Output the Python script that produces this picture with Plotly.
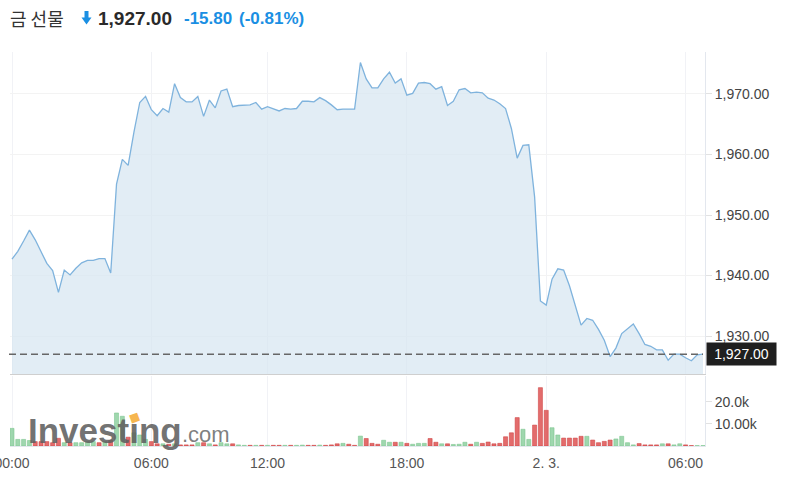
import pandas as pd
import plotly.graph_objects as go

# ---------------- data ----------------
ts = pd.date_range("2023-02-02 00:00", "2023-02-03 06:45", freq="15min")
ts = [t for t in ts if not (t.day == 2 and t.hour == 7)]
times = [t.strftime("%m-%d %H:%M") for t in ts]

price = [
    1942.7, 1944.0, 1945.7, 1947.5, 1945.9, 1944.0, 1942.0, 1940.8, 1937.2, 1940.9,
    1940.1, 1941.2, 1942.1, 1942.5, 1942.5, 1942.8, 1942.8, 1940.4, 1955.1, 1959.2,
    1958.2, 1963.7, 1968.6, 1969.6, 1967.4, 1966.4, 1967.6, 1967.0, 1971.7, 1969.4,
    1968.7, 1968.7, 1969.6, 1966.3, 1969.0, 1967.7, 1970.5, 1970.8, 1967.9, 1968.1,
    1968.2, 1968.2, 1968.6, 1967.5, 1967.9, 1967.6, 1967.2, 1967.6, 1967.5, 1967.6,
    1968.8, 1968.8, 1968.7, 1969.4, 1968.9, 1968.2, 1967.4, 1967.5, 1967.5, 1967.5,
    1975.2, 1972.5, 1971.0, 1971.0, 1972.5, 1973.6, 1971.8, 1972.5, 1969.8, 1970.1,
    1971.8, 1971.9, 1971.7, 1970.8, 1971.2, 1968.1, 1968.8, 1970.7, 1970.9, 1970.2,
    1970.3, 1970.2, 1969.3, 1969.0, 1968.4, 1967.6, 1964.3, 1959.4, 1961.5, 1961.6,
    1953.0, 1935.8, 1935.1, 1939.4, 1941.1, 1940.9, 1938.3, 1935.1, 1931.8, 1932.9,
    1932.6, 1931.1, 1929.3, 1926.6, 1928.0, 1930.4, 1931.2, 1932.0, 1930.4, 1928.6,
    1928.3, 1927.7, 1927.7, 1926.0, 1927.0, 1927.0, 1926.4, 1925.9, 1926.9, 1927.0,
]

volume_k = [
    8.0, 3.0, 3.0, 2.5, 2.0, 2.0, 2.0, 1.5, 3.5, 1.5,
    1.5, 1.5, 1.5, 2.0, 2.0, 1.5, 2.0, 2.5, 15.0, 13.5,
    4.0, 6.0, 5.0, 3.0, 2.0, 1.0, 1.0, 0.8, 1.0, 0.5,
    0.5, 0.5, 1.5, 1.5, 1.0, 0.5, 1.5, 1.0, 1.0, 0.5,
    0.3, 0.3, 0.3, 0.3, 0.3, 0.3, 0.3, 0.3, 0.3, 0.3,
    0.4, 0.3, 0.3, 0.4, 0.3, 0.5, 1.0, 1.2, 0.8, 0.3,
    4.5, 3.4, 1.2, 0.8, 2.6, 1.7, 1.7, 1.7, 1.2, 0.8,
    1.2, 1.2, 3.4, 1.7, 1.0, 1.0, 0.7, 0.8, 1.7, 0.8,
    1.7, 1.2, 1.8, 1.0, 1.2, 4.2, 6.0, 12.9, 7.6, 3.0,
    9.5, 26.5, 16.2, 8.3, 5.0, 3.6, 3.6, 3.6, 4.4, 4.4,
    2.7, 1.5, 2.1, 2.7, 3.2, 4.4, 1.5, 0.5, 1.1, 0.5,
    0.5, 0.5, 1.0, 1.0, 0.5, 1.0, 0.5, 0.2, 0.2, 0.2,
]

vol_up = [
    1, 1, 1, 1, 0, 0, 0, 0, 0, 1,
    0, 1, 1, 1, 1, 0, 1, 0, 1, 1,
    0, 1, 1, 1, 0, 0, 1, 0, 1, 0,
    0, 0, 1, 0, 1, 0, 1, 1, 0, 1,
    1, 0, 1, 0, 1, 0, 0, 1, 0, 1,
    1, 0, 0, 1, 0, 0, 0, 1, 0, 0,
    1, 0, 0, 0, 1, 1, 0, 1, 0, 1,
    1, 1, 0, 0, 1, 0, 1, 1, 1, 0,
    1, 0, 0, 0, 0, 0, 0, 0, 1, 1,
    0, 0, 0, 1, 1, 0, 0, 0, 0, 1,
    0, 0, 0, 0, 1, 1, 1, 1, 0, 0,
    0, 0, 1, 0, 1, 1, 0, 0, 1, 1,
]

tick_idx = [0, 24, 44, 68, 92, 116]
tick_text = ["00:00", "06:00", "12:00", "18:00", "2. 3.", "06:00"]
price_ticks = [1930, 1940, 1950, 1960, 1970]
vol_ticks = [10000, 20000]
vol_tick_text = ["10.00k", "20.0k"]
last_price = 1927.00

title_name = "금 선물"
title_price = "1,927.00"
title_change = "-15.80"
title_pct = "(-0.81%)"

# ---------------- layout helpers ----------------
W, H = 785, 482
L, R, T, B = 10, 80, 52, 36
PW, PH = W - L - R, H - T - B


def px_x(p):
    return (p - L) / PW


def px_y(p):
    return (H - B - p) / PH


FONT = "Liberation Sans, Arial, sans-serif"

vol_colors = ["rgba(142,208,160,0.85)" if u else "rgba(222,82,82,0.85)" for u in vol_up]
vol_lines = ["rgba(120,195,140,0.9)" if u else "rgba(205,60,60,0.9)" for u in vol_up]

fig = go.Figure()
fig.add_trace(go.Scatter(
    x=times, y=price, mode="lines",
    line=dict(color="#7fb3dd", width=1.3),
    fill="tozeroy", fillcolor="rgba(214,229,241,0.7)",
    xaxis="x", yaxis="y", hoverinfo="skip",
))
fig.add_trace(go.Bar(
    x=times, y=[v * 1000 for v in volume_k],
    marker=dict(color=vol_colors, line=dict(color=vol_lines, width=0.6)),
    xaxis="x2", yaxis="y2", hoverinfo="skip",
))

xr = [-0.344, len(times) - 1 + 0.344]
tickvals = [times[i] for i in tick_idx]

fig.update_layout(
    width=W, height=H,
    margin=dict(l=L, r=R, t=T, b=B, autoexpand=False),
    paper_bgcolor="white", plot_bgcolor="white",
    showlegend=False, bargap=0.3,
    font=dict(family=FONT, size=14, color="#555"),
    xaxis=dict(
        type="category", range=xr, anchor="y", domain=[0, 1], automargin=False,
        tickvals=tickvals, showticklabels=False,
        showgrid=True, gridcolor="#f1f2f6", gridwidth=1,
        showline=True, linecolor="#cfcfcf", linewidth=1, mirror=False,
        zeroline=False, fixedrange=True,
    ),
    xaxis2=dict(
        type="category", range=xr, anchor="y2", matches="x", domain=[0, 1], automargin=False,
        tickvals=tickvals, ticktext=tick_text,
        showgrid=True, gridcolor="#f1f2f6",
        showline=True, linecolor="#e3e7ee", linewidth=1,
        ticks="", ticklabelstandoff=4,
        tickfont=dict(family=FONT, size=14, color="#555"),
        zeroline=False,
    ),
    yaxis=dict(
        domain=[px_y(374), 1], range=[1923.72, 1976.94], anchor="x", automargin=False,
        side="right", tickvals=price_ticks, tickformat=",.2f",
        showgrid=True, gridcolor="#f3f3f3",
        ticks="outside", ticklen=6, tickcolor="#e2e2e2",
        showline=True, linecolor="#e3e7ee",
        tickfont=dict(family=FONT, size=14, color="#444"),
        zeroline=False,
    ),
    yaxis2=dict(
        domain=[0, px_y(376)], range=[0, 31800], anchor="x2", automargin=False,
        side="right", tickvals=vol_ticks, ticktext=vol_tick_text,
        showgrid=False,
        ticks="outside", ticklen=6, tickcolor="#e2e2e2",
        showline=True, linecolor="#e3e7ee",
        tickfont=dict(family=FONT, size=14, color="#444"),
        zeroline=False,
    ),
)

# dashed last-price line
fig.add_shape(type="line", xref="paper", yref="y",
              x0=px_x(9), x1=px_x(703), y0=last_price, y1=last_price,
              line=dict(color="#666", width=1.5, dash="7px,4px"))

# title arrow
ax = lambda p: px_x(p)
ay = lambda p: px_y(p)
arrow = (f"M {ax(84.5)} {ay(11)} L {ax(88.5)} {ay(11)} L {ax(88.5)} {ay(17.5)} "
         f"L {ax(91.5)} {ay(17.5)} L {ax(86.5)} {ay(24.5)} L {ax(81.5)} {ay(17.5)} "
         f"L {ax(84.5)} {ay(17.5)} Z")
fig.add_shape(type="path", xref="paper", yref="paper", path=arrow,
              fillcolor="#1a8fe3", line=dict(width=0))

ann = []
ann.append(dict(text=title_name, x=px_x(8), y=px_y(18), xanchor="left", yanchor="middle",
                font=dict(family="Noto Sans CJK KR", size=18, color="#333")))
ann.append(dict(text=f"<b>{title_price}</b>", x=px_x(96), y=px_y(18.5), xanchor="left", yanchor="middle",
                font=dict(family=FONT, size=19, color="#2a2a2a")))
ann.append(dict(text=f"<b>{title_change}</b>", x=px_x(182), y=px_y(18.5), xanchor="left", yanchor="middle",
                font=dict(family=FONT, size=17, color="#1a8fe3")))
ann.append(dict(text=f"<b>{title_pct}</b>", x=px_x(237), y=px_y(18.5), xanchor="left", yanchor="middle",
                font=dict(family=FONT, size=17, color="#1a8fe3")))
# last price tag
ann.append(dict(text=f"{last_price:,.2f}", x=px_x(706), y=last_price, yref="y",
                xanchor="left", yanchor="middle", width=67, height=20,
                bgcolor="#1f1f1f", font=dict(family=FONT, size=14, color="white")))
# watermark
ann.append(dict(text="<b>Investing</b>", x=px_x(26), y=px_y(430), xanchor="left", yanchor="middle",
                font=dict(family=FONT, size=35, color="rgba(95,95,95,0.88)")))
ann.append(dict(text=".com", x=px_x(180), y=px_y(434), xanchor="left", yanchor="middle",
                font=dict(family=FONT, size=22, color="rgba(105,105,105,0.85)")))
ann.append(dict(text="■", x=px_x(134), y=px_y(417), xanchor="center", yanchor="middle",
                textangle=-20, font=dict(family="DejaVu Sans", size=11, color="#f6b650")))

for a in ann:
    a.setdefault("xref", "paper")
    a.setdefault("yref", "paper")
    a["showarrow"] = False
fig.update_layout(annotations=ann)

fig.write_html(
    "out.html",
    config={"displayModeBar": False},
    post_script="document.body.style.margin='0';document.body.style.overflow='hidden';",
)
